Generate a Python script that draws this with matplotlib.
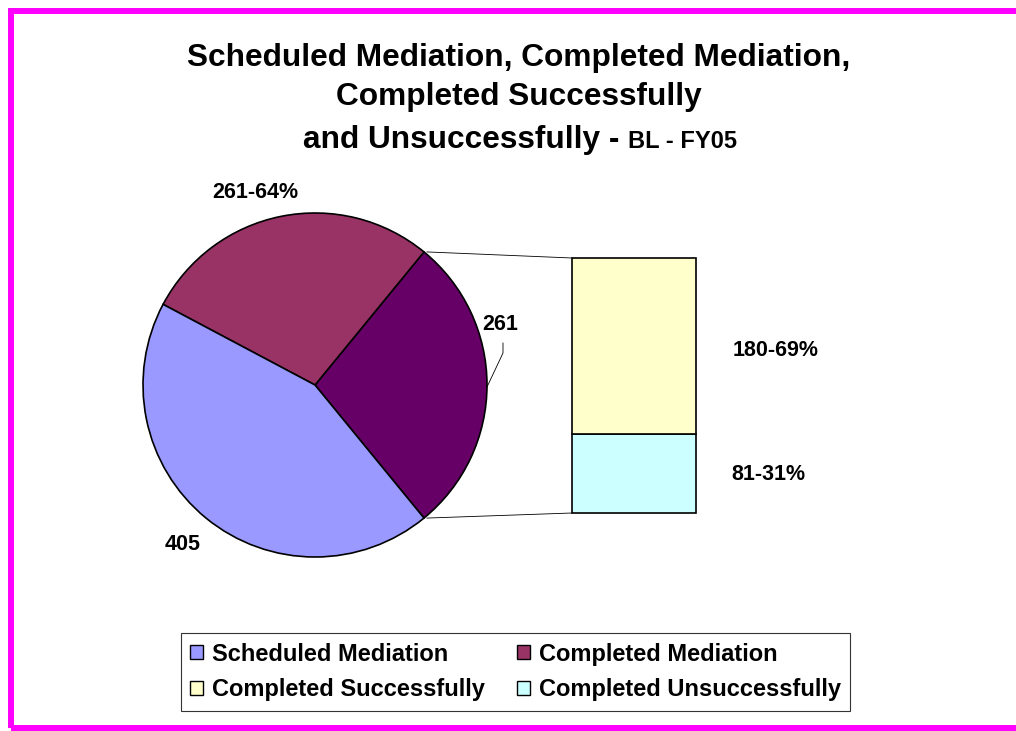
import numpy as np
import matplotlib
matplotlib.use("Agg")
import matplotlib.pyplot as plt
from matplotlib.patches import Rectangle, Patch

plt.rcParams['font.family'] = ['Liberation Sans', 'DejaVu Sans']
plt.rcParams['font.weight'] = 'bold'

# pie slices, counter-clockwise starting from the split-out slice
pie_labels = ['Completed (split)', 'Completed Mediation', 'Scheduled Mediation']
pie_values = [261, 261, 405]
pie_colors = ['#660066', '#993366', '#9999FF']

# breakdown of the split slice
bar_labels = ['Completed Unsuccessfully', 'Completed Successfully']
bar_values = [81, 180]
bar_colors = ['#CCFFFF', '#FFFFCC']
bar_texts = ['81-31%', '180-69%']

legend_labels = ['Scheduled Mediation', 'Completed Mediation',
                 'Completed Successfully', 'Completed Unsuccessfully']
legend_colors = ['#9999FF', '#993366', '#FFFFCC', '#CCFFFF']

W, H = 1016, 731
fig = plt.figure(figsize=(W / 100, H / 100), dpi=100)
ax = fig.add_axes([0, 0, 1, 1])
ax.set_xlim(0, W)
ax.set_ylim(0, H)
ax.axis('off')

# magenta frame
fig.patches.append(Rectangle((11 / W, 3 / H), 1.1, (H - 14) / H, transform=fig.transFigure,
                             fill=False, edgecolor='#FF00FF', linewidth=4.3))

# pie
cx, cy, r = 315, H - 385, 172
span = pie_values[0] / sum(pie_values) * 360
start = -span / 2
wedges, _ = ax.pie(pie_values, colors=pie_colors, startangle=start, counterclock=True,
                   center=(cx, cy), radius=r, frame=True,
                   wedgeprops=dict(edgecolor='black', linewidth=1.2))
ax.set_xlim(0, W)
ax.set_ylim(0, H)
ax.set_aspect('equal')
ax.axis('off')

# stacked bar for the split slice
bx, bw, by, bh = 572, 124, H - 513, 255
scale = bh / sum(bar_values)
bottom = by
for v, c in zip(bar_values, bar_colors):
    ax.bar(bx + bw / 2, v * scale, width=bw, bottom=bottom, color=c,
           edgecolor='black', linewidth=1.2)
    bottom += v * scale

# connector lines from slice edges to bar corners
a1, a2 = np.radians(start), np.radians(start + span)
ax.plot([cx + r * np.cos(a2) + 3, bx], [cy + r * np.sin(a2), by + bh], color='black', lw=0.6)
ax.plot([cx + r * np.cos(a1) + 3, bx], [cy + r * np.sin(a1), by], color='black', lw=0.6)

lab = dict(fontsize=15.5, fontweight='bold', ha='center', va='center')
ax.text(255, H - 192, '261-64%', **lab)
ax.text(500, H - 325, '261', **lab)
ax.text(183, H - 545, '405', **lab)
ax.text(776, H - 350, bar_texts[1], **lab)
ax.text(768, H - 474, bar_texts[0], **lab)
# leader for the 261 label
ax.plot([503, 503, 487], [H - 343, H - 353, H - 387], color='black', lw=0.6)

# title
tk = dict(fontsize=22.8, fontweight='bold', ha='center', va='center')
ax.text(519, H - 58, 'Scheduled Mediation, Completed Mediation,', **tk)
ax.text(519, H - 97, 'Completed Successfully', **tk)
t1 = ax.text(0, H - 148, 'and Unsuccessfully - ', fontsize=22.8, fontweight='bold',
             ha='right', va='baseline')
t2 = ax.text(0, H - 148, 'BL - FY05', fontsize=17, fontweight='bold',
             ha='left', va='baseline')
fig.canvas.draw()
rend = fig.canvas.get_renderer()
w1 = t1.get_window_extent(rend).width
w2 = t2.get_window_extent(rend).width
xs = 520 - (w1 + w2) / 2 + w1
t1.set_x(xs)
t2.set_x(xs)

handles = [Patch(facecolor=c, edgecolor='black', linewidth=1.0) for c in legend_colors]
order = [0, 2, 1, 3]
leg = fig.legend([handles[i] for i in order], [legend_labels[i] for i in order],
                 ncol=2, loc='center', bbox_to_anchor=(515.5 / W, 1 - 672 / H),
                 frameon=True, fancybox=False, edgecolor='black',
                 prop=dict(family='Liberation Sans', weight='bold', size=17),
                 handlelength=0.55, handleheight=0.55, handletextpad=0.35,
                 columnspacing=1.4, labelspacing=0.55, borderpad=0.4, borderaxespad=0)
leg.get_frame().set_linewidth(0.8)

fig.savefig('out.png', dpi=100)
